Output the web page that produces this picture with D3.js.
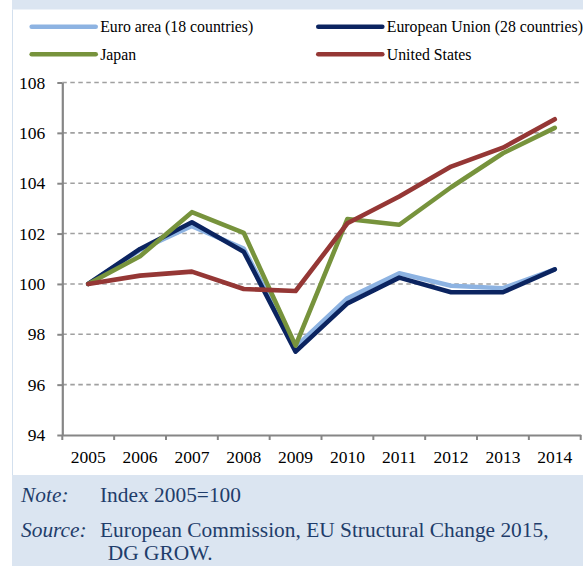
<!DOCTYPE html>
<html>
<head>
<meta charset="utf-8">
<script src="https://cdn.jsdelivr.net/npm/d3@7"></script>
<style>
  html, body { margin: 0; padding: 0; background: #ffffff; }
  svg { display: block; }
  svg text { font-family: "Liberation Serif", "Times New Roman", serif; }
</style>
</head>
<body>
<svg id="chart" width="583" height="566"></svg>
<script>
// Index values, 2005 = 100
const years = ["2005", "2006", "2007", "2008", "2009", "2010", "2011", "2012", "2013", "2014"];
const euroArea = [100, 101.35, 102.3, 101.4, 97.5, 99.43, 100.42, 99.93, 99.83, 100.58];
const europeanUnion = [100, 101.39, 102.45, 101.28, 97.31, 99.23, 100.25, 99.67, 99.67, 100.58];
const japan = [100, 101.1, 102.85, 102.03, 97.55, 102.58, 102.35, 103.84, 105.19, 106.2];
const unitedStates = [100, 100.33, 100.49, 99.8, 99.72, 102.41, 103.47, 104.66, 105.41, 106.54];
const yTicks = [94, 96, 98, 100, 102, 104, 106, 108];

const seriesNames = ["Euro area (18 countries)", "European Union (28 countries)", "Japan", "United States"];
const seriesColors = ["#8db3e2", "#0b2460", "#77933c", "#953735"];
const seriesValues = [euroArea, europeanUnion, japan, unitedStates];

const svg = d3.select("#chart");

// Frame: shaded strips above and below the white chart panel
svg.append("rect").attr("x", 12).attr("y", 0).attr("width", 571).attr("height", 9.5).attr("fill", "#dbe5f1");
svg.append("rect").attr("x", 12).attr("y", 475).attr("width", 571).attr("height", 91).attr("fill", "#dbe5f1");
svg.append("line").attr("x1", 12.5).attr("x2", 12.5).attr("y1", 9.5).attr("y2", 475)
  .attr("stroke", "#d3e0ee").attr("stroke-width", 1);

const x = d3.scaleBand().domain(years).range([62.3, 580.7]).paddingInner(0).paddingOuter(0);
const y = d3.scaleLinear().domain([94, 108]).range([435, 82.5]);

// Dashed horizontal gridlines
svg.append("g").selectAll("line")
  .data(yTicks.filter(t => t > 94))
  .join("line")
  .attr("x1", x.range()[0]).attr("x2", x.range()[1])
  .attr("y1", d => y(d)).attr("y2", d => y(d))
  .attr("stroke", "#a0a0a0").attr("stroke-width", 1.6)
  .attr("stroke-dasharray", "4.5,3.5");

// Y axis
const yAxis = svg.append("g")
  .attr("transform", `translate(${x.range()[0]},0)`)
  .call(d3.axisLeft(y).tickValues(yTicks).tickSize(5).tickSizeOuter(0).tickPadding(12));
yAxis.select(".domain").attr("stroke", "#868686").attr("stroke-width", 2.2);
yAxis.selectAll(".tick line").attr("stroke", "#868686").attr("stroke-width", 2);
yAxis.selectAll("text").style("font-size", "17.5px").attr("fill", "#000");

// X axis: labels centred on categories, tick marks on category boundaries
const xAxis = svg.append("g")
  .attr("transform", `translate(0,${y(94)})`)
  .call(d3.axisBottom(x).tickSize(0).tickSizeOuter(0));
xAxis.select(".domain").attr("stroke", "#868686").attr("stroke-width", 2.2);
xAxis.selectAll("text").style("font-size", "17.5px").attr("fill", "#000")
  .attr("y", 28.3).attr("dy", null);
const boundaries = years.map(d => x(d)).concat([x(years[years.length - 1]) + x.bandwidth()]);
xAxis.append("g").selectAll("line")
  .data(boundaries)
  .join("line")
  .attr("x1", d => d).attr("x2", d => d)
  .attr("y1", 0).attr("y2", 5)
  .attr("stroke", "#868686").attr("stroke-width", 2);

// Series lines
const line = d3.line()
  .x((d, i) => x(years[i]) + x.bandwidth() / 2)
  .y(d => y(d));
svg.append("g").selectAll("path")
  .data(seriesValues)
  .join("path")
  .attr("d", d => line(d))
  .attr("fill", "none")
  .attr("stroke", (d, i) => seriesColors[i])
  .attr("stroke-width", 4.6)
  .attr("stroke-linejoin", "round")
  .attr("stroke-linecap", "round");

// Legend (two columns, two rows)
const legendPos = [[31.7, 26.7], [318.3, 26.7], [31.7, 54.3], [318.3, 54.3]];
const legend = svg.append("g").selectAll("g")
  .data(seriesNames)
  .join("g")
  .attr("transform", (d, i) => `translate(${legendPos[i][0]},${legendPos[i][1]})`);
legend.append("line")
  .attr("x1", 0).attr("x2", 64).attr("y1", 0).attr("y2", 0)
  .attr("stroke", (d, i) => seriesColors[i])
  .attr("stroke-width", 4.6)
  .attr("stroke-linecap", "round");
legend.append("text")
  .attr("x", 68.5).attr("y", 5.5)
  .style("font-size", "15.8px").attr("fill", "#000")
  .text(d => d);

// Notes below the chart
const noteColor = "#1f3d6b";
const notes = svg.append("g").style("font-size", "21.4px").attr("fill", noteColor);
notes.append("text").attr("x", 21).attr("y", 502.3).attr("font-style", "italic").text("Note:");
notes.append("text").attr("x", 100).attr("y", 502.3).text("Index 2005=100");
notes.append("text").attr("x", 21).attr("y", 536.7).attr("font-style", "italic").text("Source:");
notes.append("text").attr("x", 100).attr("y", 536.7).text("European Commission, EU Structural Change 2015,");
notes.append("text").attr("x", 107.7).attr("y", 560).text("DG GROW.");
</script>
</body>
</html>
